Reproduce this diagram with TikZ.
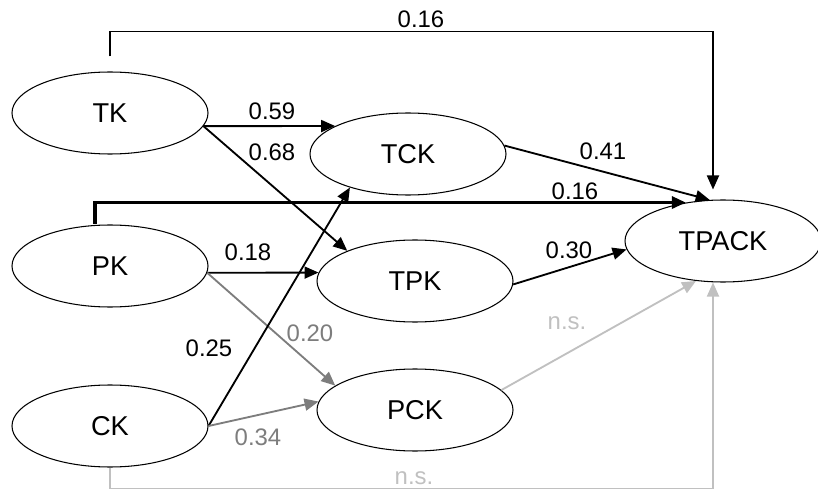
\documentclass[tikz,border=0pt]{standalone}
\usepackage{fontspec}
\setmainfont{Liberation Sans}
\usetikzlibrary{arrows.meta,shapes.geometric}

\definecolor{midgray}{RGB}{125,125,125}
\definecolor{lightgray}{RGB}{192,192,192}

\tikzset{
  construct/.style={ellipse,draw,line width=0.6pt,minimum width=3.92cm,minimum height=1.64cm,inner sep=0pt,font=\fontsize{15.5}{18}\selectfont},
  path/.style={line width=1.05pt,-{Triangle[length=0.28cm,width=0.24cm]}},
  weak/.style={path,midgray},
  ns/.style={path,lightgray},
  coef/.style={font=\fontsize{13.6}{16}\selectfont}
}

\begin{document}
\begin{tikzpicture}
\useasboundingbox (0,0) rectangle (16.36,9.98);

\node[construct] (TK) at (2.20,7.72) {TK};
\node[construct] (PK) at (2.20,4.66) {PK};
\node[construct] (CK) at (2.20,1.46) {CK};
\node[construct] (TCK) at (8.16,6.90) {TCK};
\node[construct] (TPK) at (8.30,4.36) {TPK};
\node[construct] (PCK) at (8.30,1.78) {PCK};
\node[construct] (TPACK) at (14.46,5.16) {TPACK};

% direct paths to TPACK
\draw[path] ([yshift=0.3cm]TK.north) -- ++(0,0.5) -| ([shift={(-0.2,0.2)}]TPACK.north);
\draw[path,line width=1.8pt] ([xshift=-0.3cm]PK.north) |- (TPACK.134);
\draw[ns] (CK.south) -- ++(0,-0.42) -| ([xshift=-0.2cm]TPACK.south);

\draw[path] (TK.-8) -- (TCK.159);
\draw[path] (TK.-8) -- (TPK.156);
\draw[path] (PK.-4) -- (TPK.175);
\draw[weak] (PK.-4) -- (PCK.163);
\draw[path] (CK.east) -- (TCK.210);
\draw[weak] (CK.east) -- (PCK.175);

\draw[path] (TCK.5) -- (TPACK.108);
\draw[path] (TPK.-2) -- (TPACK.185);
\draw[ns] (PCK.13) -- (TPACK.236);

\node[coef] (c1) at (8.42,9.60) {0.16};
\node[coef] (c2) at (11.50,6.16) {0.16};
\node[coef] (c3) at (5.44,7.76) {0.59};
\node[coef] (c4) at (5.44,6.94) {0.68};
\node[coef] (c5) at (12.06,6.96) {0.41};
\node[coef] (c6) at (4.96,4.94) {0.18};
\node[coef] (c7) at (11.38,4.98) {0.30};
\node[coef] (c8) at (4.18,3.02) {0.25};
\node[coef,midgray] (c9) at (6.20,3.32) {0.20};
\node[coef,midgray] (c10) at (5.16,1.24) {0.34};
\node[coef,lightgray] (c11) at (11.34,3.52) {n.s.};
\node[coef,lightgray] (c12) at (8.28,0.42) {n.s.};

\end{tikzpicture}
\end{document}
